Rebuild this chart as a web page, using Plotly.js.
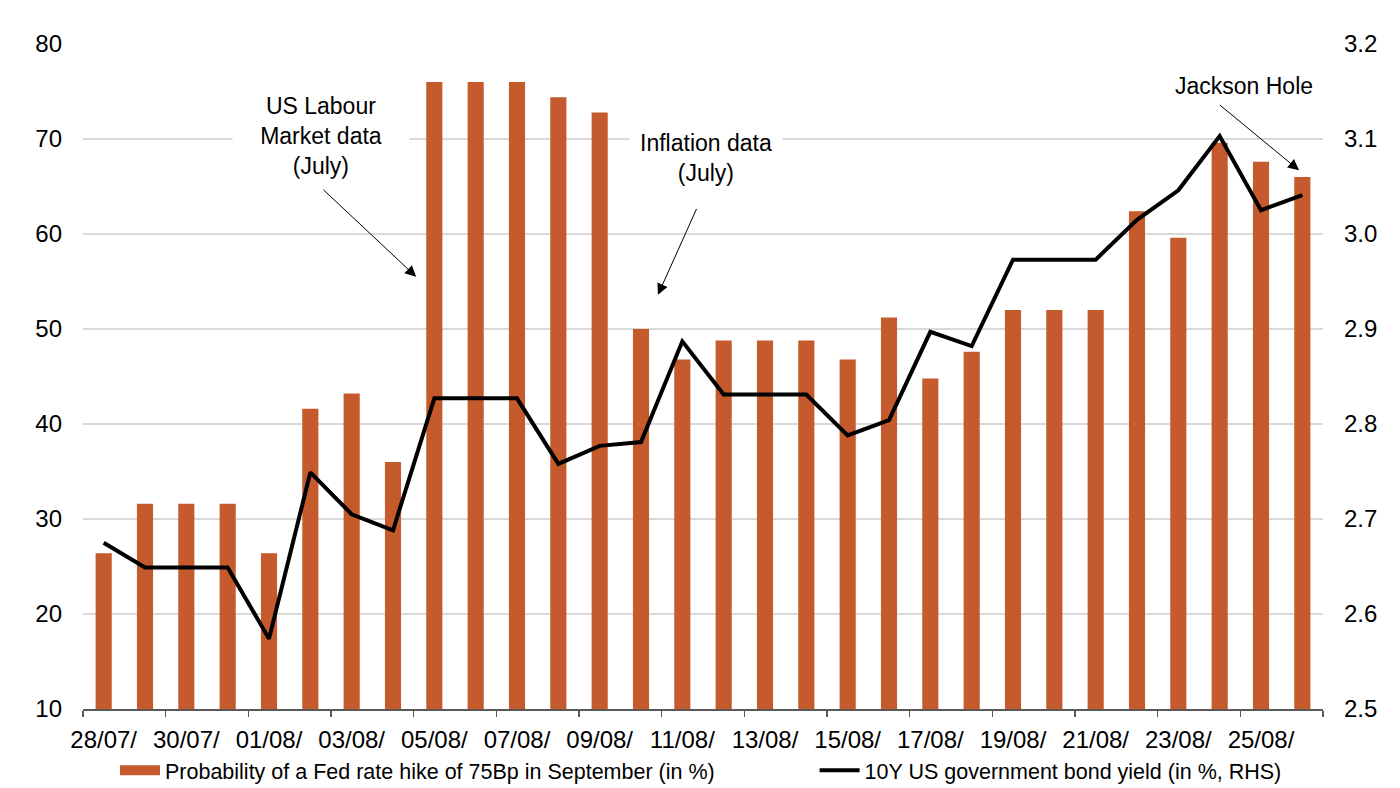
<!DOCTYPE html>
<html>
<head>
<meta charset="utf-8">
<script src="https://cdn.plot.ly/plotly-3.0.1.min.js"></script>
<style>html,body{margin:0;padding:0;background:#fff;}#chart{width:1400px;height:788px;}</style>
</head>
<body>
<div id="chart"></div>
<script>
// Categories: daily dates 28/07 - 26/08 (labels truncated as in the source)
const categories = ["28/07/","29/07/","30/07/","31/07/","01/08/","02/08/","03/08/","04/08/","05/08/","06/08/",
  "07/08/","08/08/","09/08/","10/08/","11/08/","12/08/","13/08/","14/08/","15/08/","16/08/",
  "17/08/","18/08/","19/08/","20/08/","21/08/","22/08/","23/08/","24/08/","25/08/","26/08/"];

// Probability of a Fed rate hike of 75Bp in September (in %)
const hikeProbability = [26.4,31.6,31.6,31.6,26.4,41.6,43.2,36.0,76.0,76.0,
  76.0,74.4,72.8,50.0,46.8,48.8,48.8,48.8,46.8,51.2,
  44.8,47.6,52.0,52.0,52.0,62.4,59.6,69.6,67.6,66.0];

// 10Y US government bond yield (in %, RHS)
const bondYield = [2.675,2.649,2.649,2.649,2.574,2.749,2.705,2.688,2.827,2.827,
  2.827,2.758,2.777,2.781,2.887,2.831,2.831,2.831,2.788,2.804,
  2.897,2.882,2.973,2.973,2.973,3.015,3.046,3.103,3.025,3.041];

const seriesNames = ["Probability of a Fed rate hike of 75Bp in September (in %)",
  "10Y US government bond yield (in %, RHS)"];

const BAR_COLOR = "#C55A2C";
const FONT = "Liberation Sans, Arial, sans-serif";

const traces = [
  {type:"bar", x:categories, y:hikeProbability, marker:{color:BAR_COLOR}, width:0.39,
   name:seriesNames[0], showlegend:false, yaxis:"y"},
  {type:"scatter", mode:"lines", x:categories, y:bondYield, line:{color:"#000", width:4},
   name:seriesNames[1], showlegend:false, yaxis:"y2"},
  // legend entries (no data)
  {type:"scatter", mode:"lines", x:[null], y:[null], line:{color:BAR_COLOR, width:12},
   name:seriesNames[0], showlegend:true, yaxis:"y", legend:"legend"},
  {type:"scatter", mode:"lines", x:[null], y:[null], line:{color:"#000", width:4},
   name:seriesNames[1], showlegend:true, yaxis:"y2", legend:"legend2"}
];

const annFont = {family:FONT, size:23, color:"#000"};
const arrowCommon = {text:"", showarrow:true, arrowhead:2, arrowsize:2.2, arrowwidth:1,
  arrowcolor:"#000", xref:"x", yref:"y", axref:"x", ayref:"y", standoff:0, startstandoff:0};

const legendFont = {family:FONT, size:21.5, color:"#000"};

const layout = {
  width:1400, height:788,
  margin:{l:83, r:77, t:44, b:79, autoexpand:false},
  paper_bgcolor:"#fff", plot_bgcolor:"#fff",
  font:{family:FONT, size:24, color:"#000"},
  bargap:0.6,
  xaxis:{type:"category", tickmode:"linear", tick0:0, dtick:2, tickson:"boundaries",
    ticks:"outside", ticklen:6, tickwidth:1.5, tickcolor:"#595959", tickangle:0, automargin:false,
    ticklabelstandoff:9,
    showline:true, linecolor:"#595959", linewidth:1.5, showgrid:false,
    range:[-0.5,29.5], tickfont:{family:FONT, size:24, color:"#000"}, fixedrange:true},
  yaxis:{range:[10,80], dtick:10, tick0:10, showgrid:true, gridcolor:"#d9d9d9", gridwidth:1.2,
    zeroline:false, showline:false, ticks:"", ticklabelstandoff:20, automargin:false,
    tickfont:{family:FONT, size:24, color:"#000"}},
  yaxis2:{range:[2.5,3.2], dtick:0.1, tick0:2.5, tickformat:".1f", overlaying:"y", side:"right",
    showgrid:false, zeroline:false, showline:false, ticks:"", ticklabelstandoff:20, automargin:false,
    tickfont:{family:FONT, size:24, color:"#000"}},
  showlegend:true,
  legend:{orientation:"h", x:0.0258, xanchor:"left", y:-0.092, yanchor:"middle",
    font:legendFont, itemwidth:40, bgcolor:"rgba(0,0,0,0)"},
  legend2:{orientation:"h", x:0.590, xanchor:"left", y:-0.092, yanchor:"middle",
    font:legendFont, itemwidth:40, bgcolor:"rgba(0,0,0,0)"},
  annotations:[
    {text:"US Labour<br>Market data<br>(July)", x:5.26, y:70.3, xref:"x", yref:"y", showarrow:false,
     font:annFont, bgcolor:"#fff", width:174, align:"center"},
    Object.assign({x:7.56, y:55.5, ax:5.28, ay:64.8}, arrowCommon),
    {text:"Inflation data<br>(July)", x:14.57, y:68.05, xref:"x", yref:"y", showarrow:false,
     font:annFont, bgcolor:"#fff", width:150, align:"center"},
    Object.assign({x:13.41, y:53.6, ax:14.36, ay:62.8}, arrowCommon),
    {text:"Jackson Hole", x:27.59, y:75.6, xref:"x", yref:"y", showarrow:false,
     font:annFont, align:"center"},
    Object.assign({x:28.92, y:66.7, ax:26.97, ay:73.7}, arrowCommon)
  ]
};

Plotly.newPlot("chart", traces, layout, {displayModeBar:false, staticPlot:true});
</script>
</body>
</html>
